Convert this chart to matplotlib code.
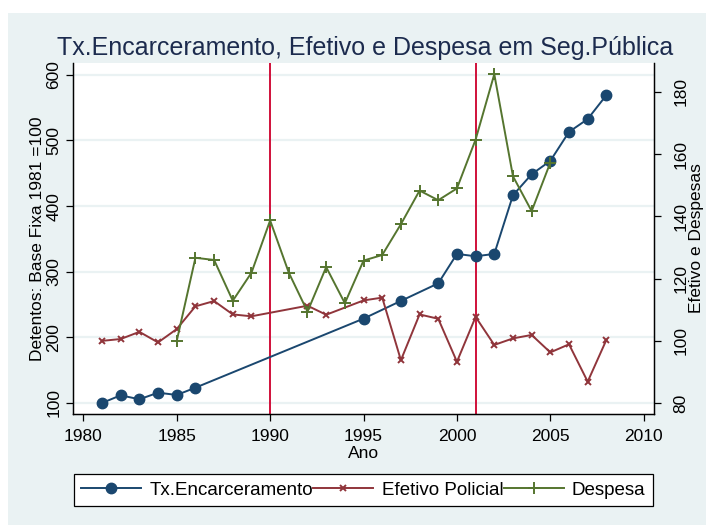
import matplotlib
matplotlib.use("Agg")
import matplotlib.pyplot as plt
from matplotlib.patches import Rectangle

# ---- data ----
anos_tx = [1981, 1982, 1983, 1984, 1985, 1986, 1995, 1997, 1999, 2000, 2001,
           2002, 2003, 2004, 2005, 2006, 2007, 2008]
tx_encarceramento = [100, 111.7, 105.6, 115.7, 112.2, 123.3, 228.5, 255.5, 282.3,
                     327.1, 323.5, 327.1, 416.5, 448.5, 468.9, 513, 532.6, 569]

anos_efetivo = [1981, 1982, 1983, 1984, 1985, 1986, 1987, 1988, 1989, 1992, 1993,
                1995, 1996, 1997, 1998, 1999, 2000, 2001, 2002, 2003, 2004, 2005,
                2006, 2007, 2008]
efetivo_policial = [100, 100.6, 102.9, 99.5, 103.8, 111.1, 112.8, 108.5, 107.9,
                    111.3, 108.4, 113.0, 113.9, 93.8, 108.5, 107.1, 93.3, 107.7,
                    98.7, 100.8, 101.9, 96.3, 98.9, 86.9, 100.3]

anos_despesa = [1985, 1986, 1987, 1988, 1989, 1990, 1991, 1992, 1993, 1994, 1995,
                1996, 1997, 1998, 1999, 2000, 2001, 2002, 2003, 2004, 2005]
despesa = [100, 126.7, 126.0, 112.9, 121.9, 138.7, 121.9, 109.4, 123.7, 112.1,
           125.8, 127.6, 137.5, 148.3, 145.2, 149.0, 164.7, 185.7, 152.9, 141.7, 157.3]

marcos = [1990, 2001]
xticks = [1980, 1985, 1990, 1995, 2000, 2005, 2010]
yticks_left = [100, 200, 300, 400, 500, 600]
yticks_right = [80, 100, 120, 140, 160, 180]

titulo = "Tx.Encarceramento, Efetivo e Despesa em Seg.Pública"

# ---- style ----
plt.rcParams['font.family'] = ['Liberation Sans', 'DejaVu Sans']
BG = '#EAF2F3'
BLUE = '#1A476F'
RED = '#90353B'
GREEN = '#55752F'
VLINE = '#D0103A'
TITLE_C = '#1C2B4E'
FS = 12.5

W, H = 706, 525
fig = plt.figure(figsize=(W / 100, H / 100), dpi=100, facecolor='white')
fig.patches.append(Rectangle((8 / W, 0), 1 - 8 / W, 1 - 13 / H, transform=fig.transFigure,
                             facecolor=BG, edgecolor='none', zorder=-10))

x0, x1 = 72.7 / W, 654 / W
ytop, ybot = 1 - 63 / H, 1 - 414 / H
ax = fig.add_axes([x0, ybot, x1 - x0, ytop - ybot])
ax.set_facecolor('white')
ax2 = ax.twinx()

ax.set_xlim(1979.43, 2010.55)
ax.set_ylim(83.2, 618)
ax2.set_ylim(76.5, 189.3)

ax.set_yticks(yticks_left)
ax.set_xticks(xticks)
ax2.set_yticks(yticks_right)
ax.grid(axis='y', color=BG, linewidth=1.6)
ax.set_axisbelow(True)

for v in marcos:
    ax.axvline(v, color=VLINE, linewidth=1.4, zorder=2)

l1, = ax.plot(anos_tx, tx_encarceramento, color=BLUE, marker='o', markersize=7.5,
              linewidth=1.4, label='Tx.Encarceramento', zorder=3)
l2, = ax2.plot(anos_efetivo, efetivo_policial, color=RED, marker='x', markersize=5,
               markeredgewidth=1.4, linewidth=1.4, label='Efetivo Policial', zorder=3)
l3, = ax2.plot(anos_despesa, despesa, color=GREEN, marker='+', markersize=9,
               markeredgewidth=1.4, linewidth=1.4, label='Despesa', zorder=3)

for a in (ax, ax2):
    a.spines['top'].set_visible(False)
    for s in ('left', 'right', 'bottom'):
        a.spines[s].set_color('black')
        a.spines[s].set_linewidth(0.9)
    a.tick_params(length=5, width=0.9, color='black', labelsize=FS, labelcolor='black')

ax.tick_params(axis='y', labelrotation=90, pad=3)
for lab in ax.get_yticklabels():
    lab.set_va('center')
ax2.tick_params(axis='y', labelrotation=90, pad=9)
for lab in ax2.get_yticklabels():
    lab.set_va('center')
ax.tick_params(axis='x', pad=6)

ax.set_xlabel('Ano', fontsize=FS, labelpad=1)
ax.set_ylabel('Detentos: Base Fixa 1981 =100', fontsize=FS)
ax.yaxis.label.set_va('center')
ax.yaxis.set_label_coords((38 - 72.7) / (654 - 72.7), 0.5)
ax2.set_ylabel('Efetivo e Despesas', fontsize=FS)
ax2.yaxis.label.set_va('center')
ax2.yaxis.set_label_coords((696 - 72.7) / (654 - 72.7), 0.5)

fig.text(0.5 * (58 + 672) / W, 1 - 48 / H, titulo, ha='center', va='center',
         fontsize=18, color=TITLE_C)

leg = fig.legend(handles=[l1, l2, l3], loc='center', ncol=3,
                 bbox_to_anchor=(363.5 / W, 1 - 490 / H), fontsize=13.5,
                 frameon=True, fancybox=False, edgecolor='black', facecolor='white',
                 framealpha=1, handlelength=3.2, columnspacing=0.0, handletextpad=0.45,
                 borderpad=0.4, borderaxespad=0)
leg.get_frame().set_linewidth(0.9)

fig.savefig('out.png', dpi=100, facecolor='white')
